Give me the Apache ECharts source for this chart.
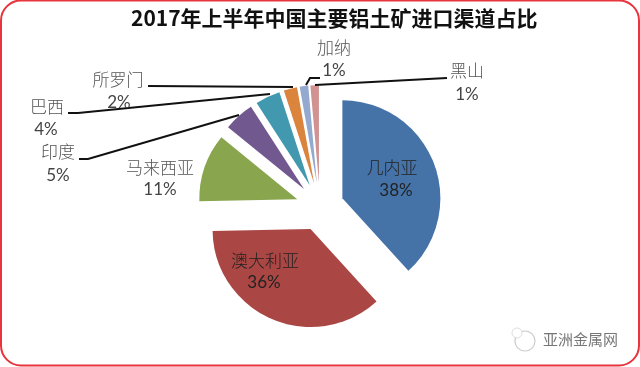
<!DOCTYPE html>
<html><head><meta charset="utf-8"><style>html,body{margin:0;padding:0;background:#fff}#c{width:640px;height:367px}</style>
<script src="https://cdn.jsdelivr.net/npm/echarts@6/dist/echarts.min.js"></script></head>
<body><div id="c"></div><script>
const titleText='2017年上半年中国主要铝土矿进口渠道占比';
const names=['几内亚','澳大利亚','马来西亚','印度','巴西','所罗门','加纳','黑山'];
const values=[38.2,36.4,11.2,5.0,4.1,2.2,1.4,1.4];
const colors=['#4572a7','#aa4643','#89a54e','#71588f','#4198af','#db843d','#93a9cf','#d19392'];
const watermark='亚洲金属网';
const chart=echarts.init(document.getElementById('c'),null,{renderer:'canvas'});
const cjk='"Noto Sans CJK SC"';
const latin='Lato';
// label layout: [name x, name y, percent x, percent y]
const labelPos=[[392,168,396,191],[265,261,264,283],[160,168,160,190],[58,152,58,176],[47,107,46,130],[118,80,119,103],[334,48,334,71],[467,71,467,95]];
// leader lines, by slice index
const leaders={3:[[79,159],[88,159],[239,115]],4:[[68,113],[78,113],[270,94]],5:[[148,86],[293,87]],6:[[306,85],[310,78],[320,78]],7:[[447,78],[315,85]]};
const graphics=[
 {type:'rect',shape:{x:1,y:0.5,width:638,height:365,r:20},style:{fill:'none',stroke:'#e8343c',lineWidth:2},z:-1},
 {type:'text',style:{x:543,y:339,text:watermark,fontFamily:cjk,fontSize:15,fill:'#777',textVerticalAlign:'middle'}},
 {type:'circle',shape:{cx:525,cy:341,r:10},style:{fill:'none',stroke:'#ccc',lineWidth:1.2}},
 {type:'circle',shape:{cx:517,cy:333,r:5},style:{fill:'#fff',stroke:'#ddd',lineWidth:1}}
];
names.forEach((n,i)=>{
 const q=labelPos[i];
 graphics.push({type:'text',z:10,style:{x:q[0],y:q[1],text:n,fontFamily:cjk,fontSize:17,fontWeight:300,fill:i<2?'#222':'#555',textAlign:'center',textVerticalAlign:'middle'}});
 graphics.push({type:'text',z:10,style:{x:q[2],y:q[3],text:Math.round(values[i])+'%',fontFamily:latin,fontSize:17,fill:i<2?'#222':'#444',textAlign:'center',textVerticalAlign:'middle'}});
 if(leaders[i])graphics.push({type:'polyline',z:9,shape:{points:leaders[i]},style:{fill:'none',stroke:'#111',lineWidth:2}});
});
chart.setOption({
 animation:false,
 title:{text:titleText,left:126,top:3,textStyle:{fontFamily:cjk,fontSize:21,fontWeight:'bold',color:'#111'}},
 graphic:graphics,
 series:[{type:'pie',radius:[0,98],center:[320,207],startAngle:90,selectedMode:'multiple',selectedOffset:24,silent:true,
  data:names.map((n,i)=>({name:n,value:values[i],selected:true,itemStyle:{color:colors[i]}})),
  label:{show:false},labelLine:{show:false},emphasis:{disabled:true}}]
});
</script></body></html>
